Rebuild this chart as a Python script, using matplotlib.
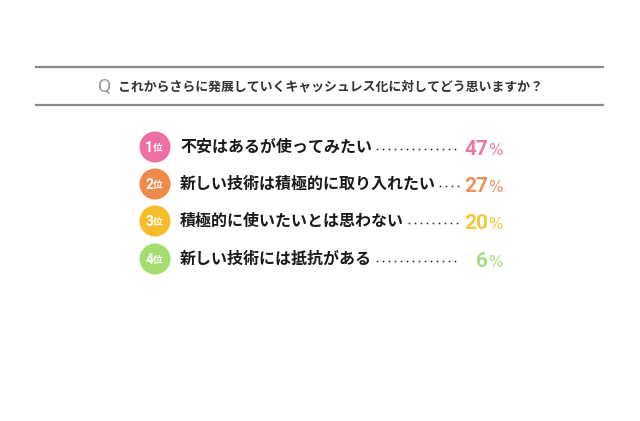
import matplotlib
matplotlib.use("Agg")
import matplotlib.pyplot as plt
from matplotlib.patches import Circle

plt.rcParams['font.family'] = ['Noto Sans CJK JP', 'DejaVu Sans']

question = "これからさらに発展していくキャッシュレス化に対してどう思いますか？"
rank_nums = ["1", "2", "3", "4"]
answers = ["不安はあるが使ってみたい",
           "新しい技術は積極的に取り入れたい",
           "積極的に使いたいとは思わない",
           "新しい技術には抵抗がある"]
values = [47, 27, 20, 6]
circle_colors = ["#ee6fa2", "#f08a4b", "#f6bd2b", "#a5dc6e"]
text_colors = ["#e97aa8", "#ee9155", "#efc93c", "#a9dc86"]

fig = plt.figure(figsize=(6.4, 4.21), dpi=100)
ax = fig.add_axes([0, 0, 1, 1])
ax.set_xlim(0, 640)
ax.set_ylim(421, 0)
ax.axis('off')

# header
ax.plot([36, 603], [67, 67], color='#8a8a8a', lw=1.6)
ax.plot([36, 603], [105, 105], color='#8a8a8a', lw=1.6)
ax.text(105, 87, "Q", color='#9a9a9a', fontsize=14, ha='center', va='center',
        family='Roboto')
ax.text(118, 87, question, color='#333333', fontsize=9.3, ha='left', va='center',
        fontweight='bold')

row_y = [147, 184, 221, 259]
char_w = 15.9
for i in range(len(answers)):
    y = row_y[i]
    ax.add_patch(Circle((155, y), 15.5, color=circle_colors[i], lw=0))
    ax.text(153, y + 1, rank_nums[i], color='white', fontsize=10, ha='right',
            va='center', fontweight='bold', family='Roboto')
    ax.text(153, y + 1, "位", color='white', fontsize=7, ha='left',
            va='center', fontweight='bold')
    ax.text(180, y, answers[i], color='#1a1a1a', fontsize=11.5, ha='left',
            va='center', fontweight='bold')
    # dotted leader
    x0 = 180 + len(answers[i]) * char_w + 6
    xs = []
    x = x0
    while x <= 459:
        xs.append(x)
        x += 6
    ax.plot(xs, [y + 2] * len(xs), ls='none', marker='o', ms=1.3,
            mew=0, color='#333333')
    ax.text(488, y + 8, str(values[i]), color=text_colors[i], fontsize=15,
            ha='right', va='baseline', fontweight='bold', family='Roboto')
    ax.text(488, y + 8, "%", color=text_colors[i], fontsize=11,
            ha='left', va='baseline', family='DejaVu Sans')

fig.savefig("out.png", dpi=100, facecolor='white')
